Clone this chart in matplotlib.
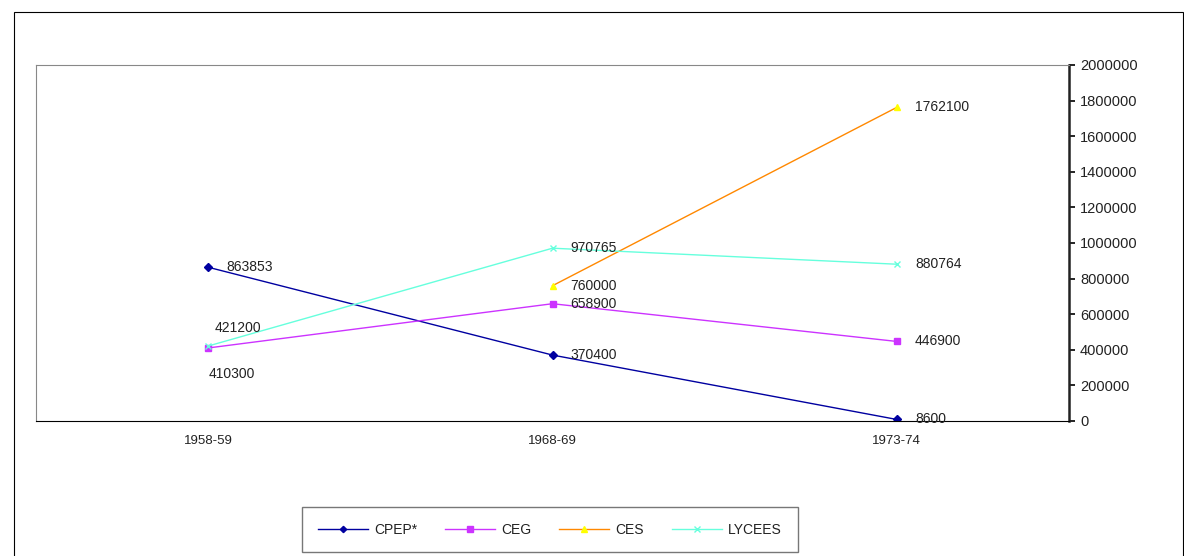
import matplotlib.pyplot as plt
from matplotlib.patches import Rectangle
from matplotlib.ticker import StrMethodFormatter

plt.rcParams['font.family'] = ['Liberation Sans', 'DejaVu Sans']

# data
years = ["1958-59", "1968-69", "1973-74"]
cpep = [863853, 370400, 8600]
ceg = [410300, 658900, 446900]
ces = [None, 760000, 1762100]
lycees = [421200, 970765, 880764]

fig = plt.figure(figsize=(11.84, 5.56), dpi=100)
W, H = 1184, 556
ax = fig.add_axes([36 / W, 1 - 421 / H, (1069 - 36) / W, (421 - 65) / H])

# outer frame
fig.patches.append(Rectangle((14 / W, -0.01), (1183 - 14) / W, 1 - 12 / H + 0.01,
                             transform=fig.transFigure, fill=False,
                             edgecolor="#000000", linewidth=0.8))

x = [0, 1, 2]
ax.plot(x, cpep, color="#0000a0", marker="D", markersize=4, linewidth=1, label="CPEP*")
ax.plot(x, ceg, color="#cc33ff", marker="s", markersize=5, linewidth=1, label="CEG")
ax.plot(x[1:], ces[1:], color="#ff8800", marker="^", markersize=5, linewidth=1,
        markerfacecolor="#ffff00", markeredgecolor="#ffff00", label="CES")
ax.plot(x, lycees, color="#66ffdd", marker="x", markersize=5, linewidth=1, label="LYCEES")

# data labels
fs = 10
dx = 13
tc = "#222222"
for i, v in enumerate(cpep):
    ax.annotate(str(v), (i, v), xytext=(dx, 0), textcoords="offset points",
                va="center", fontsize=fs, color=tc)
for i, v in enumerate(ceg):
    off = (0, -19) if i == 0 else (dx, 0)
    ax.annotate(str(v), (i, v), xytext=off, textcoords="offset points",
                va="center", fontsize=fs, color=tc)
for i, v in enumerate(lycees):
    off = (5, 13) if i == 0 else (dx, 0)
    ax.annotate(str(v), (i, v), xytext=off, textcoords="offset points",
                va="center", fontsize=fs, color=tc)
for i in (1, 2):
    ax.annotate(str(ces[i]), (i, ces[i]), xytext=(dx, 0), textcoords="offset points",
                va="center", fontsize=fs, color=tc)

ax.set_xlim(-0.5, 2.5)
ax.set_ylim(0, 2000000)
ax.set_xticks(x)
ax.set_xticklabels(years, fontsize=9.5, color=tc)
ax.tick_params(axis="x", length=0, pad=10)
ax.yaxis.tick_right()
ax.set_yticks(range(0, 2000001, 200000))
ax.yaxis.set_major_formatter(StrMethodFormatter("{x:.0f}"))
ax.tick_params(axis="y", length=4, width=1.2, labelsize=10.5, pad=4, labelcolor=tc)

ax.spines["right"].set_linewidth(1.8)
ax.spines["right"].set_color("#222222")
ax.spines["top"].set_color("#888888")
ax.spines["left"].set_color("#888888")
ax.spines["top"].set_linewidth(0.8)
ax.spines["left"].set_linewidth(0.8)
ax.spines["bottom"].set_linewidth(0.8)

leg = fig.legend(loc="center", bbox_to_anchor=(550 / W, 1 - 529.5 / H), ncol=4,
                 fontsize=10, frameon=True, fancybox=False, handlelength=3.6,
                 handletextpad=0.45, columnspacing=2.0, borderpad=1.15,
                 borderaxespad=0, markerscale=0.8)
leg.get_frame().set_edgecolor("#555555")
leg.get_frame().set_linewidth(1.0)
for t in leg.get_texts():
    t.set_color(tc)

fig.savefig("out.png", dpi=100)
